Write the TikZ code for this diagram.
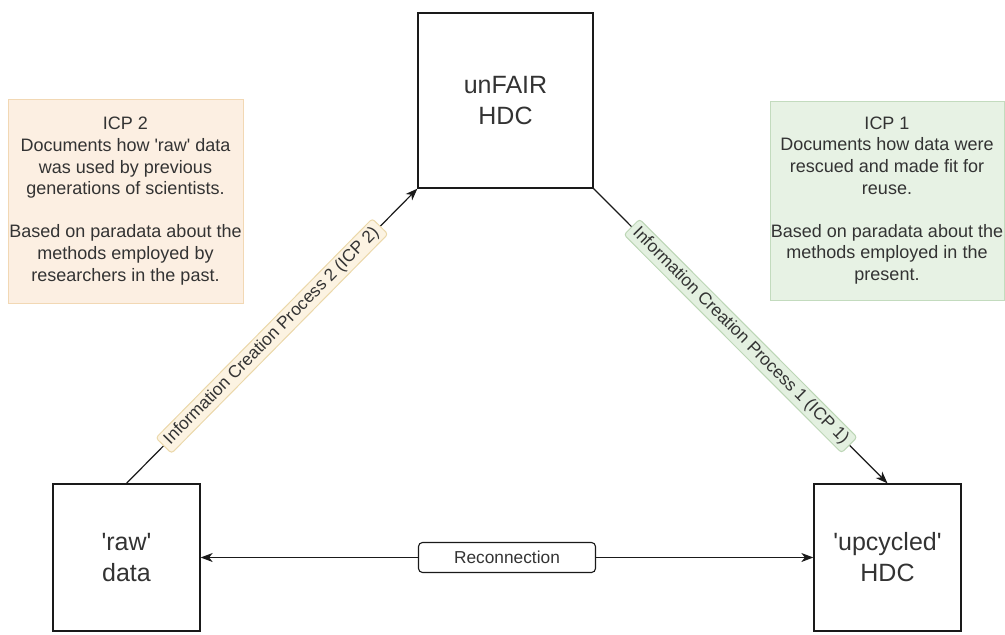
\documentclass[tikz,border=0pt]{standalone}
\usepackage{fontspec}
\setmainfont{Liberation Sans}
\usetikzlibrary{arrows.meta}
\definecolor{txt}{HTML}{333333}
\definecolor{orfill}{HTML}{FCEFE2}
\definecolor{ordraw}{HTML}{F2D8B4}
\definecolor{grfill}{HTML}{E7F2E4}
\definecolor{grdraw}{HTML}{C3DBBE}
\definecolor{olfill}{HTML}{FCF3E2}
\definecolor{oldraw}{HTML}{EBD8AA}
\definecolor{glfill}{HTML}{E3F0E0}
\definecolor{gldraw}{HTML}{BCD6B5}
\definecolor{linec}{HTML}{1A1A1A}
\newcommand{\sq}{\textquotesingle}
\begin{document}
\begin{tikzpicture}[x=1pt,y=-1pt,
  bigbox/.style={draw=linec, line width=1.3pt, inner sep=0pt, align=center,
    font=\fontsize{25}{31}\selectfont, text=txt},
  notebox/.style={line width=1pt, inner sep=0pt, align=center,
    font=\fontsize{18}{21.6}\selectfont, text=txt},
  edgelabel/.style={line width=1pt, rounded corners=3pt, inner xsep=5pt, inner ysep=0pt,
    minimum height=22pt, font=\fontsize{17.3}{20}\selectfont, text=txt, sloped},
  reclabel/.style={draw=linec, fill=white, line width=1.1pt, rounded corners=4pt,
    minimum width=177pt, minimum height=30pt, inner sep=0pt,
    font=\fontsize{17.3}{20}\selectfont, text=txt},
  conn/.style={line width=1.2pt, draw=linec},
  tip/.style={-{Stealth[length=12pt,width=9pt,inset=3.5pt]}},
  bothtips/.style={{Stealth[length=12pt,width=9pt,inset=3.5pt]}-{Stealth[length=12pt,width=9pt,inset=3.5pt]}}
]
\useasboundingbox (0,0) rectangle (1005,635);

\node[bigbox, minimum width=175pt, minimum height=175pt] (unfair) at (505.5,100.5) {unFAIR\\HDC};
\node[bigbox, minimum width=147pt, minimum height=147pt] (raw) at (126.5,557.5) {\sq raw\sq\\data};
\node[bigbox, minimum width=147pt, minimum height=147pt] (upc) at (887.5,557.5) {\sq upcycled\sq\\HDC};

\node[notebox, draw=ordraw, fill=orfill, minimum width=235pt, minimum height=204pt] (icp2) at (125.5,201)
  {ICP 2\\Documents how \sq raw\sq{} data\\was used by previous\\generations of scientists.\\[21.6pt]Based on paradata about the\\methods employed by\\researchers in the past.};
\node[notebox, draw=grdraw, fill=grfill, minimum width=234pt, minimum height=199pt] (icp1) at (887,200.5)
  {ICP 1\\Documents how data were\\rescued and made fit for\\reuse.\\[21.6pt]Based on paradata about the\\methods employed in the\\present.};

\draw[conn, tip] (raw.north) -- node[edgelabel, draw=oldraw, fill=olfill] (l2) {Information Creation Process 2 (ICP 2)} (unfair.south west);
\draw[conn, tip] (unfair.south east) -- node[edgelabel, draw=gldraw, fill=glfill] (l1) {Information Creation Process 1 (ICP 1)} (upc.north);
\draw[conn, bothtips] (raw.east) -- node[reclabel] (rec) {Reconnection} (upc.west);
\end{tikzpicture}
\end{document}
